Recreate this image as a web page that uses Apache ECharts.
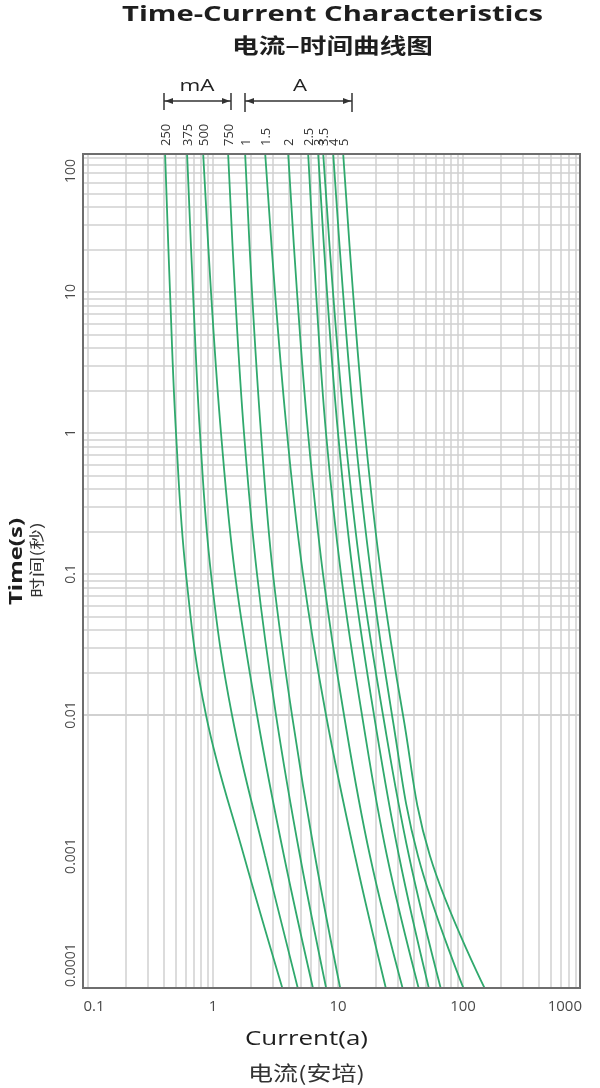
<!DOCTYPE html>
<html><head><meta charset="utf-8">
<script src="https://cdn.jsdelivr.net/npm/echarts@6/dist/echarts.min.js"></script>
<style>html,body{margin:0;padding:0;background:#fff;}#c{width:600px;height:1088px;}</style>
</head><body><div id="c"></div>
<script>
// Time levels (s) at which each curve's current (A) was read
const timeLevels = [100, 10, 1, 0.1, 0.01, 0.001, 0.0001];
// Fuse ratings (label text above the plot)
const ratingLabels = ['250','375','500','750','1','1.5','2','2.5','3','3.5','4','5'];
// Current (A) for each rating at the time levels above
const i250mA = [0.413, 0.453, 0.506, 0.608, 0.879, 1.770, 3.767];
const i375mA = [0.619, 0.692, 0.787, 0.964, 1.419, 2.606, 4.966];
const i500mA = [0.832, 0.964, 1.159, 1.500, 2.249, 3.698, 6.546];
const i750mA = [1.318, 1.500, 1.770, 2.249, 3.192, 4.966, 8.318];
const i1A    = [1.803, 2.051, 2.421, 3.020, 4.285, 6.546, 10.76];
const i1_5A  = [2.606, 3.133, 3.908, 5.248, 8.017, 13.68, 25.12];
const i2A    = [3.981, 4.699, 5.754, 7.586, 11.17, 18.03, 34.36];
const i2_5A  = [5.754, 6.668, 8.017, 10.57, 15.56, 24.66, 46.13];
const i3A    = [6.918, 8.166, 10.00, 13.18, 19.41, 30.76, 55.46];
const i3_5A  = [7.586, 9.120, 11.38, 15.28, 22.91, 36.98, 69.18];
const i4A    = [9.120, 10.96, 13.68, 18.37, 27.04, 43.65, 107.6];
const i5A    = [10.96, 13.18, 16.44, 22.08, 33.11, 54.45, 161.4];
const curves = [i250mA, i375mA, i500mA, i750mA, i1A, i1_5A, i2A, i2_5A, i3A, i3_5A, i4A, i5A];
// Axis tick labels (decades)
const xTicks = [0.1, 1, 10, 100, 1000];
const yTicks = [0.0001, 0.001, 0.01, 0.1, 1, 10, 100];
// Visible axis extents
const X_MIN = 0.0912, X_MAX = 863, Y_MIN = 0.0001159, Y_MAX = 95.2;

const LAT = '"Open Sans", "Noto Sans", sans-serif';
const CJK = '"Noto Sans CJK SC", sans-serif';

// grid line values (1..9 per decade, strictly inside the extents)
const xGrid = [], yGrid = [];
for (let d = -2; d < 3; d++) for (let m = 1; m < 10; m++) { const v = +(m * Math.pow(10, d)).toPrecision(3); if (v > X_MIN && v < X_MAX) xGrid.push(v); }
for (let d = -4; d < 2; d++) for (let m = 1; m < 10; m++) { const v = +(m * Math.pow(10, d)).toPrecision(3); if (v > Y_MIN && v < Y_MAX) yGrid.push(v); }

function near(a, b) { return Math.abs(Math.log10(a) - Math.log10(b)) < 1e-6; }
function fmt(v) { return String(Math.pow(10, Math.round(Math.log10(v)))); }

const chart = echarts.init(document.getElementById('c'), null, {renderer: 'canvas'});

const series = [{
  type: 'line', data: [], silent: true, z: 1,
  markLine: {
    silent: true, symbol: ['none', 'none'], animation: false, z: 1,
    label: {show: false},
    lineStyle: {color: '#d0d0d0', width: 1.5, type: 'solid'},
    emphasis: {disabled: true},
    data: xGrid.map(v => ({xAxis: v})).concat(yGrid.map(v => ({yAxis: v})))
  }
}];
curves.forEach((c, k) => {
  series.push({
    type: 'line', name: ratingLabels[k], smooth: 0.4, showSymbol: false, symbol: 'none',
    clip: true, z: 3, silent: true,
    lineStyle: {color: '#30a96d', width: 1.8},
    data: c.map((cur, j) => [cur, timeLevels[j]])
  });
});

chart.setOption({
  animation: false,
  backgroundColor: '#fff',
  grid: {left: 83, right: 20, top: 154, bottom: 100, show: true, borderColor: '#6e6e6e', borderWidth: 2, backgroundColor: 'transparent', z: 5},
  xAxis: {
    type: 'log', logBase: 10, min: X_MIN, max: X_MAX,
    axisLine: {show: false}, axisTick: {show: false}, splitLine: {show: false},
    axisLabel: {
      margin: 11, color: '#4a4a4a', fontSize: 15, fontFamily: LAT,
      formatter: v => {
        if (!xTicks.some(t => near(v, t))) return '';
        return near(v, xTicks[0]) ? '{p|' + fmt(v) + '}' : fmt(v);
      },
      rich: {p: {padding: [0, 0, 0, 12], fontSize: 15, fontFamily: LAT, color: '#4a4a4a'}}
    }
  },
  yAxis: {
    type: 'log', logBase: 10, min: Y_MIN, max: Y_MAX,
    axisLine: {show: false}, axisTick: {show: false}, splitLine: {show: false},
    axisLabel: {
      margin: 5, rotate: 90, color: '#4a4a4a', fontSize: 14, fontFamily: LAT,
      formatter: v => yTicks.some(t => near(v, t)) ? fmt(v) : ''
    }
  },
  series: series
});

// ---- annotations ----
const g = [];
const mctx = document.createElement('canvas').getContext('2d');
// text stretched along its own direction to a given length (reference text is widened)
function stretched(str, cx, cy, font, len, fill, rotated) {
  mctx.font = font;
  const w = mctx.measureText(str).width;
  g.push({type: 'text', silent: true, x: cx, y: cy, scaleX: len / w, rotation: rotated ? Math.PI / 2 : 0,
    style: {text: str, font: font, fill: fill, align: 'center', verticalAlign: 'middle'}});
}
stretched('Time-Current Characteristics', 332.5, 15.5, 'bold 21px ' + LAT, 421, '#1e1e1e', false);
stretched('电流–时间曲线图', 332.5, 45, 'bold 21px ' + CJK, 201, '#1e1e1e', false);
stretched('mA', 197, 86, '17px ' + LAT, 35, '#222', false);
stretched('A', 300, 86, '17px ' + LAT, 14, '#222', false);
function bracket(x1, x2, y, yt, yb) {
  const s = {stroke: '#333', lineWidth: 1.5};
  g.push({type: 'line', silent: true, shape: {x1: x1, y1: yt, x2: x1, y2: yb}, style: s});
  g.push({type: 'line', silent: true, shape: {x1: x2, y1: yt, x2: x2, y2: yb}, style: s});
  g.push({type: 'line', silent: true, shape: {x1: x1, y1: y, x2: x2, y2: y}, style: s});
  g.push({type: 'polygon', silent: true, shape: {points: [[x1 + 1, y], [x1 + 9, y - 3], [x1 + 9, y + 3]]}, style: {fill: '#333'}});
  g.push({type: 'polygon', silent: true, shape: {points: [[x2 - 1, y], [x2 - 9, y - 3], [x2 - 9, y + 3]]}, style: {fill: '#333'}});
}
bracket(164, 231, 101, 93, 110);
bracket(245, 352, 101, 93, 112);
// rating labels above each curve's top end
curves.forEach((c, k) => {
  const px = chart.convertToPixel({gridIndex: 0}, [c[0], Y_MAX]);
  g.push({type: 'text', silent: true, x: px[0] + 1, y: 146, rotation: Math.PI / 2,
    style: {text: ratingLabels[k], font: '13px ' + LAT, fill: '#333', align: 'left', verticalAlign: 'middle'}});
});
// decade labels just outside the visible extents, pinned to the edges
const xr = chart.convertToPixel({gridIndex: 0}, [X_MAX, Y_MIN]);
g.push({type: 'text', silent: true, x: xr[0] + 2, y: xr[1] + 11, style: {text: fmt(xTicks[4]), font: '15px ' + LAT, fill: '#4a4a4a', align: 'right', verticalAlign: 'top'}});
const yt = chart.convertToPixel({gridIndex: 0}, [X_MIN, Y_MAX]);
g.push({type: 'text', silent: true, x: yt[0] - 5, y: yt[1] + 5, rotation: Math.PI / 2, style: {text: fmt(yTicks[6]), font: '14px ' + LAT, fill: '#4a4a4a', align: 'right', verticalAlign: 'bottom'}});
const yb = chart.convertToPixel({gridIndex: 0}, [X_MIN, Y_MIN]);
g.push({type: 'text', silent: true, x: yb[0] - 5, y: yb[1] - 1, rotation: Math.PI / 2, style: {text: fmt(yTicks[0]), font: '14px ' + LAT, fill: '#4a4a4a', align: 'left', verticalAlign: 'bottom'}});
// axis names
stretched('Time(s)', 17, 561.5, 'bold 18px ' + LAT, 87, '#1e1e1e', true);
stretched('时间(秒)', 36, 560, '15px ' + CJK, 76, '#333', true);
stretched('Current(a)', 306.5, 1039, '20px ' + LAT, 123, '#1e1e1e', false);
stretched('电流(安培)', 306.5, 1073, '20px ' + CJK, 117, '#333', false);
chart.setOption({graphic: g});
</script></body></html>
